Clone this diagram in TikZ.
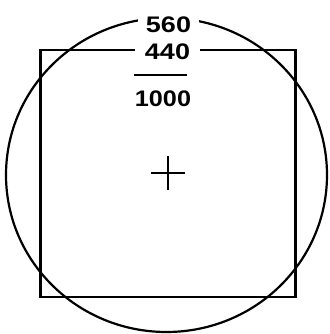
\documentclass[tikz,border=0pt]{standalone}
\usepackage{fontspec}
\setmainfont{Liberation Sans}
\begin{document}
\begin{tikzpicture}[x=1pt,y=1pt,
  stroke/.style={line width=2.2pt, black},
  num/.style={fill=white, inner xsep=8pt, inner ysep=1pt, font=\fontsize{22.5}{22.5}\selectfont\bfseries}]
\useasboundingbox (0,0) rectangle (329,334);
\draw[stroke] (166.5,159) ellipse [x radius=160.5, y radius=157];
\draw[stroke] (40.5,37) rectangle (295.5,284);
\node[num] (n560) at (168.5,309.5) {\scalebox{1.2}[1]{560}};
\node[num, inner xsep=10pt] (n440) at (167.5,282) {\scalebox{1.2}[1]{440}};
\node[num, fill=none] (n1000) at (163,235) {\scalebox{1.12}[1]{1000}};
\coordinate (b1) at (134,259);
\coordinate (b2) at (187,259);
\draw[stroke] (b1) -- (b2);
\coordinate (c) at (168,161);
\draw[stroke, line width=2.6pt] ([xshift=-17pt]c) -- ([xshift=17pt]c);
\draw[stroke, line width=2.6pt] ([yshift=-17pt]c) -- ([yshift=17pt]c);
\end{tikzpicture}
\end{document}
